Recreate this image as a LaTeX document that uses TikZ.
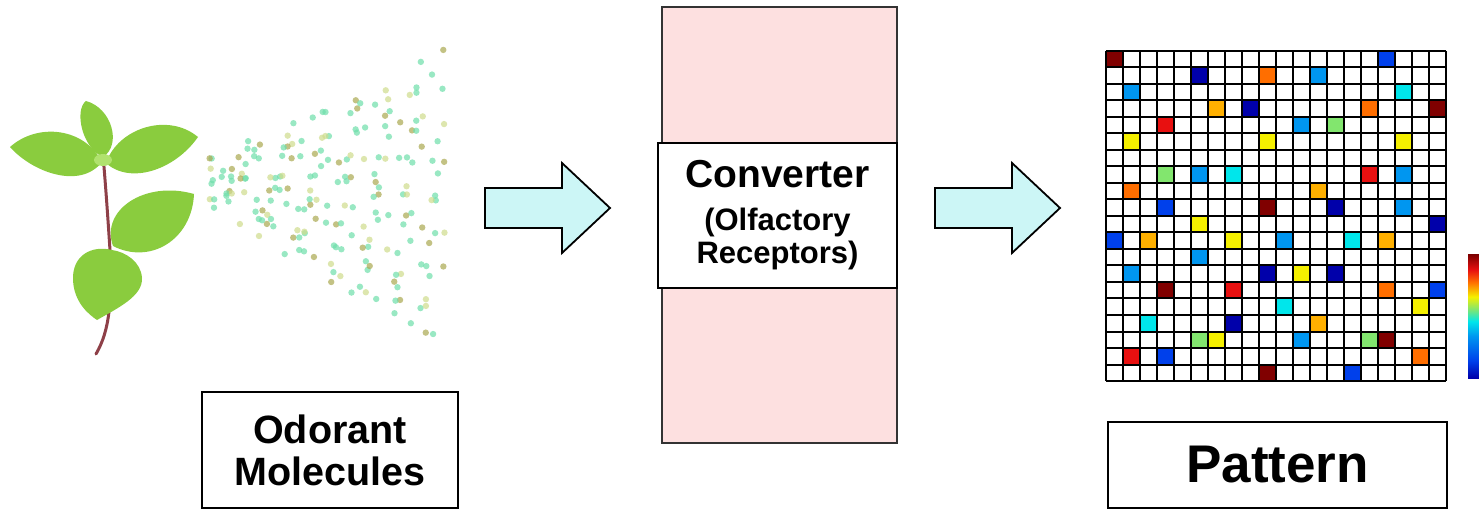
\documentclass[tikz,border=0pt]{standalone}
\usepackage{fontspec}
\setmainfont{Liberation Sans}

% plant, spray and converter
\definecolor{leafgreen}{RGB}{138,204,62}
\definecolor{leaflight}{RGB}{176,226,110}
\definecolor{stemred}{RGB}{142,64,72}
\definecolor{dotmint}{RGB}{110,222,170}
\definecolor{dotolive}{RGB}{170,168,80}
\definecolor{dotlime}{RGB}{206,220,140}
\definecolor{convpink}{RGB}{253,224,224}
\definecolor{arrowcyan}{RGB}{204,246,246}
% jet colours of the response map
\definecolor{jmaroon}{RGB}{128,0,0}
\definecolor{jred}{RGB}{232,16,16}
\definecolor{jorange}{RGB}{255,110,0}
\definecolor{jamber}{RGB}{255,176,0}
\definecolor{jyellow}{RGB}{245,240,0}
\definecolor{jgreen}{RGB}{130,230,110}
\definecolor{jcyan}{RGB}{0,230,235}
\definecolor{jsky}{RGB}{0,150,240}
\definecolor{jblue}{RGB}{0,64,235}
\definecolor{jnavy}{RGB}{0,0,170}

\pgfdeclareverticalshading{jetbar}{100bp}{color(0bp)=(jnavy); color(25bp)=(jnavy);
  color(32bp)=(jblue); color(42bp)=(jsky); color(48bp)=(jcyan); color(53bp)=(jgreen);
  color(58bp)=(jyellow); color(64bp)=(jorange); color(69bp)=(jred); color(75bp)=(jmaroon);
  color(100bp)=(jmaroon)}

\tikzset{
  labelbox/.style={draw=black, line width=2.6, fill=white, align=center, font=\bfseries, inner sep=0},
  flowarrow/.style={draw=black, line width=1.8, fill=arrowcyan, line join=miter},
  gridline/.style={black, line width=2},
  leaf/.style={fill=leafgreen},
}

\begin{document}
\begin{tikzpicture}[x=1pt,y=-1pt]
\useasboundingbox (0,0) rectangle (1479,510);

%% plant
\draw[stemred, line width=3, line cap=round] (103,155) .. controls (106,190) and (108,220) .. (110,250)
  .. controls (112,300) and (110,330) .. (96,354);
\fill[leaf] (103,157) .. controls (122,145) and (112,108) .. (86,101) .. controls (74,110) and (82,148) .. (103,157);
\fill[leaf] (102,162) .. controls (85,128) and (38,122) .. (10,147) .. controls (32,172) and (80,190) .. (102,162);
\fill[leaf] (106,163) .. controls (118,128) and (168,112) .. (198,137) .. controls (175,170) and (130,185) .. (106,163);
\fill[leaf] (113,246) .. controls (100,210) and (145,180) .. (194,194) .. controls (192,240) and (150,265) .. (113,246);
\fill[leaf] (112,250) .. controls (92,245) and (72,255) .. (73,280) .. controls (74,302) and (88,314) .. (97,320)
  .. controls (118,308) and (143,296) .. (142,278) .. controls (141,262) and (126,252) .. (112,250);
\fill[leaflight] (103,160) ellipse (9 and 6);

%% odorant spray, spread over a cone with a little jitter
\foreach \k in {1,...,200}{
  \pgfmathsetmacro\u{frac(0.5+\k*0.7548776662)}
  \pgfmathsetmacro\v{frac(0.5+\k*0.5698402910)}
  \pgfmathsetmacro\dx{min(245,245*pow(\u,0.8)+7*sin(\k*53))}
  \pgfmathsetmacro\dy{(2*\v-1)*(15+0.56*\dx)+7*cos(\k*71)}
  \pgfmathtruncatemacro\kind{mod(\k*37,5)}
  \pgfmathsetmacro\dc{{"dotmint","dotolive","dotlime","dotmint","dotmint"}[\kind]}
  \fill[\dc, opacity=0.7] (200+\dx, 178+0.12*\dx+\dy) circle (3.2);
}

%% converter
\node[draw=black!80, line width=1.4, fill=convpink, minimum width=235, minimum height=436, inner sep=0]
  (converter) at (779.5,225) {};
\node[labelbox, minimum width=239, minimum height=145, font=\bfseries\fontsize{31}{33}\selectfont]
  (convlabel) at (777.5,215.5) {{\fontsize{39}{40}\selectfont Converter}\\[10pt](Olfactory\\Receptors)};

%% block arrows
\coordinate (arrowA) at (485,208);
\coordinate (arrowB) at (935,208);
\foreach \a in {arrowA,arrowB}
  \draw[flowarrow] (\a) ++(0,-20) -- ++(77,0) -- ++(0,-25) -- ++(48,45) -- ++(-48,45) -- ++(0,-25) -- ++(-77,0) -- cycle;

%% response pattern, 20 x 20 cells
\def\cw{17}
\def\ch{16.5}
\foreach \r/\c/\col in {0/0/jmaroon, 0/16/jblue,
  1/5/jnavy, 1/9/jorange, 1/12/jsky,
  2/1/jsky, 2/17/jcyan,
  3/6/jamber, 3/8/jnavy, 3/15/jorange, 3/19/jmaroon,
  4/3/jred, 4/11/jsky, 4/13/jgreen,
  5/1/jyellow, 5/9/jyellow, 5/17/jyellow,
  7/3/jgreen, 7/5/jsky, 7/7/jcyan, 7/15/jred, 7/17/jsky,
  8/1/jorange, 8/12/jamber,
  9/3/jblue, 9/9/jmaroon, 9/13/jnavy, 9/17/jsky,
  10/5/jyellow, 10/19/jnavy,
  11/0/jblue, 11/2/jamber, 11/7/jyellow, 11/10/jsky, 11/14/jcyan, 11/16/jamber,
  12/5/jsky,
  13/1/jsky, 13/9/jnavy, 13/11/jyellow, 13/13/jnavy,
  14/3/jmaroon, 14/7/jred, 14/16/jorange, 14/19/jblue,
  15/10/jcyan, 15/18/jyellow,
  16/2/jcyan, 16/7/jnavy, 16/12/jamber,
  17/5/jgreen, 17/6/jyellow, 17/11/jsky, 17/15/jgreen, 17/16/jmaroon,
  18/1/jred, 18/3/jblue, 18/18/jorange,
  19/9/jmaroon, 19/14/jblue}
  \fill[\col] (1106+\c*\cw, 51+\r*\ch) rectangle ++(\cw,\ch);
\foreach \i in {0,...,20}{
  \draw[gridline] (1106+\i*\cw, 51) -- ++(0,330);
  \draw[gridline] (1106, 51+\i*\ch) -- ++(340,0);
}
\shade[shading=jetbar] (1468,255) rectangle (1479,378);

%% labels
\node[labelbox, minimum width=256, minimum height=116, font=\bfseries\fontsize{39.5}{42}\selectfont]
  (odorant) at (330,450) {Odorant\\Molecules};
\node[labelbox, minimum width=339, minimum height=86, font=\bfseries\fontsize{53}{56}\selectfont]
  (pattern) at (1277.5,465) {Pattern};
\end{tikzpicture}
\end{document}
